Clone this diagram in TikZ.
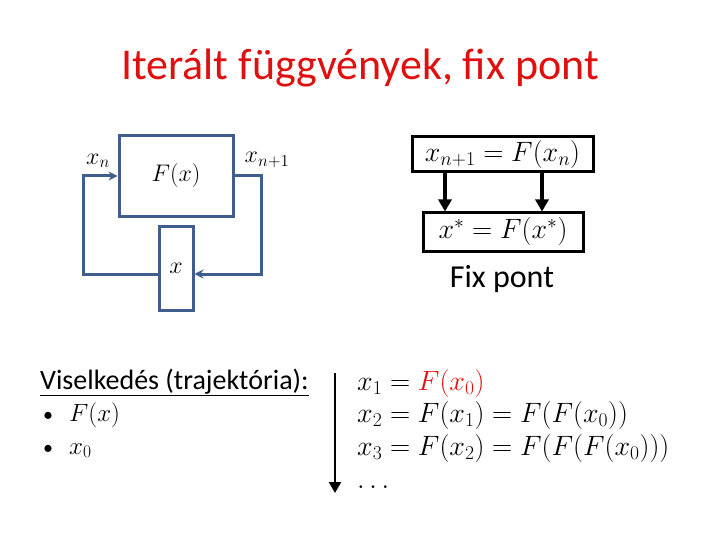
\RequirePackage{fix-cm}
\documentclass[tikz,border=0pt]{standalone}
\usepackage{fontspec}
\setmainfont{Carlito}
\definecolor{titlered}{HTML}{E01010}
\definecolor{loopblue}{HTML}{3F5E8C}
\usetikzlibrary{arrows.meta, positioning, calc}

\begin{document}
\begin{tikzpicture}[x=1pt, y=-1pt,
    big/.style={font=\fontsize{24}{28}\selectfont},
    large/.style={font=\fontsize{28}{32}\selectfont},
    bluebox/.style={draw=loopblue, line width=3pt, inner sep=0pt, big},
    blackbox/.style={draw=black, line width=3pt, inner sep=0pt, large},
    bluewire/.style={draw=loopblue, line width=3pt, -{Stealth[length=9pt, width=9pt]}},
    blackarrow/.style={line width=3.2pt, -{Triangle[length=12pt, width=13pt]}}]
  \useasboundingbox (0,0) rectangle (720,540);

  % cim
  \node[text=titlered, font=\fontsize{44}{48}\selectfont] (title) at (360,68) {Iterált függvények, fix pont};

  % visszacsatolt rendszer
  \node[bluebox, minimum width=114pt, minimum height=81pt] (fbox) at (176,176) {$F(x)$};
  \node[bluebox, minimum width=34pt, minimum height=83pt] (xbox) at (176,268.5) {$x$};
  \coordinate (loopL) at (83,274);
  \coordinate (loopR) at (261,274);
  \draw[bluewire] (xbox.west |- loopL) -- (loopL) |- (fbox.west);
  \draw[bluewire] (fbox.east) -| (loopR) -- (xbox.east |- loopR);
  \node[big] (xn) at (98,161) {$x_n$};
  \node[big] (xnext) at (267,160) {$x_{n+1}$};

  % fix pont
  \node[blackbox, minimum width=181pt, minimum height=35pt] (iter) at (502.5,154.5) {$x_{n+1} = F(x_n)$};
  \node[blackbox, minimum width=160pt, minimum height=38pt] (fix) at (503,232) {$x^* = F(x^*)$};
  \foreach \px in {445, 542}
    \draw[blackarrow] (iter.south -| \px,0) -- (fix.north -| \px,0);
  \node[font=\fontsize{32}{36}\selectfont] (fixlabel) at (502,279) {Fix pont};

  % viselkedes
  \node[large, anchor=base west, inner sep=0pt] (behav) at (40,389) {\underline{Viselkedés (trajektória):}};
  \foreach \yy/\item [count=\i] in {421/{$F(x)$}, 454/{$x_0$}}{%
    \node[big, anchor=base west, inner sep=0pt] (bullet\i) at (43,\yy) {\fontsize{20}{24}\selectfont\textbullet};
    \node[font=\fontsize{25}{29}\selectfont, anchor=base west, inner sep=0pt] (item\i) at (69,\yy) {\item};
  }

  % trajektoria
  \foreach \yy/\eq [count=\i] in {%
    390/{$x_1 = {\color{titlered}F(x_0)}$},
    422/{$x_2 = F(x_1) = F(F(x_0))$},
    455/{$x_3 = F(x_2) = F(F(F(x_0)))$},
    488/{$\dots$}}{%
    \node[large, anchor=base west, inner sep=0pt] (eq\i) at (357,\yy) {\eq};
  }
  \coordinate (timetop) at (335,373);
  \coordinate (timebot) at (335,493);
  \draw[line width=2.5pt, -{Triangle[length=11pt, width=12pt]}] (timetop) -- (timebot);
\end{tikzpicture}
\end{document}
